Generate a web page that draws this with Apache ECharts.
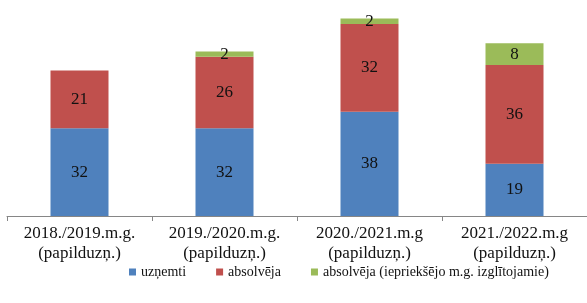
<!DOCTYPE html>
<html>
<head>
<meta charset="utf-8">
<script src="https://cdn.jsdelivr.net/npm/echarts@6/dist/echarts.min.js"></script>
<style>html,body{margin:0;padding:0;background:#fff}#c{width:587px;height:303px}</style>
</head>
<body>
<div id="c"></div>
<script>
var categories = ['2018./2019.m.g.\n(papilduzņ.)', '2019./2020.m.g.\n(papilduzņ.)', '2020./2021.m.g\n(papilduzņ.)', '2021./2022.m.g\n(papilduzņ.)'];
var seriesNames = ['uzņemti', 'absolvēja', 'absolvēja (iepriekšējo m.g. izglītojamie)'];
var uznemti = [32, 32, 38, 19];
var absolveja = [21, 26, 32, 36];
var absolvejaIepr = [null, 2, 2, 8];
var colors = ['#4F81BD', '#C0504D', '#9BBB59'];

var font = '"Liberation Serif", "Times New Roman", "DejaVu Serif", serif';
function mk(name, data, color) {
  return {
    name: name, type: 'bar', stack: 's', data: data, barWidth: '40%',
    itemStyle: { color: color },
    label: { show: true, position: 'inside', color: '#111', fontFamily: font, fontSize: 17,
      formatter: function (p) { return p.value == null ? '' : p.value; } }
  };
}
var chart = echarts.init(document.getElementById('c'), null, { renderer: 'canvas' });
chart.setOption({
  animation: false,
  color: colors,
  textStyle: { fontFamily: font },
  grid: { left: 7, right: -2, top: 2, bottom: 87 },
  legend: {
    left: 124, top: 260, itemWidth: 7, itemHeight: 7, itemGap: 30,
    icon: 'rect',
    textStyle: { fontFamily: font, fontSize: 14, color: '#111' },
    data: seriesNames
  },
  xAxis: {
    type: 'category', data: categories,
    axisLine: { lineStyle: { color: '#868686' } },
    axisTick: { show: true, length: 5, lineStyle: { color: '#868686' } },
    axisLabel: { fontFamily: font, fontSize: 17, color: '#111', lineHeight: 20, margin: 8 }
  },
  yAxis: { type: 'value', min: 0, max: 78, show: false, splitLine: { show: false } },
  series: [
    mk(seriesNames[0], uznemti, colors[0]),
    mk(seriesNames[1], absolveja, colors[1]),
    mk(seriesNames[2], absolvejaIepr, colors[2])
  ]
});
</script>
</body>
</html>
